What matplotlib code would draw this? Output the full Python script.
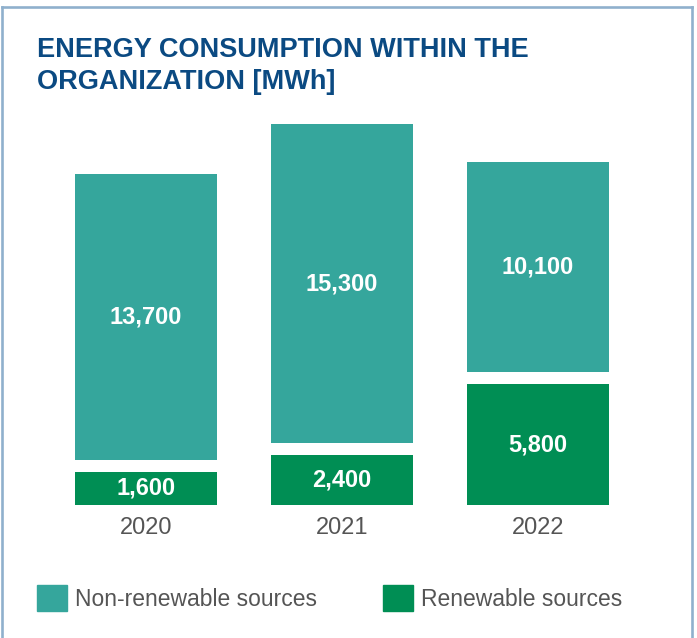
import matplotlib.pyplot as plt
from matplotlib.patches import Patch
from matplotlib.lines import Line2D

years = ["2020", "2021", "2022"]
renewable = [1600, 2400, 5800]
non_renewable = [13700, 15300, 10100]

teal = "#35a69c"
green = "#008e54"
navy = "#0b4a82"
grey = "#555555"
frame = "#8fb0cd"

plt.rcParams['font.family'] = ['Liberation Sans', 'DejaVu Sans']

W, H = 697, 638
fig = plt.figure(figsize=(W / 100, H / 100), dpi=100)

# axes placed so bars sit between y=505 and y=100 px
ax = fig.add_axes([20 / W, (H - 505) / H, 657 / W, 405 / H])
x = list(range(len(years)))
gap = 576  # white gap between stacked segments, in MWh
bw = 0.7245

ax.bar(x, renewable, width=bw, color=green)
bottoms = [r + gap for r in renewable]
ax.bar(x, non_renewable, width=bw, bottom=bottoms, color=teal)

for i in x:
    ax.text(i, renewable[i] / 2, f"{renewable[i]:,}", ha='center', va='center',
            color='white', fontsize=17, fontweight='bold')
    ax.text(i, bottoms[i] + non_renewable[i] / 2, f"{non_renewable[i]:,}", ha='center',
            va='center', color='white', fontsize=17, fontweight='bold')

ax.set_xlim(-0.643, 2.709)
ax.set_ylim(0, 19440)
ax.set_xticks(x)
ax.set_xticklabels(years, fontsize=17, color=grey)
ax.tick_params(axis='x', length=0, pad=9)
ax.set_yticks([])
for s in ax.spines.values():
    s.set_visible(False)

# title
fig.text(37 / W, 1 - 57 / H, "ENERGY CONSUMPTION WITHIN THE", fontsize=19.5,
         fontweight='bold', color=navy, va='baseline')
fig.text(37 / W, 1 - 89 / H, "ORGANIZATION [MWh]", fontsize=19.5,
         fontweight='bold', color=navy, va='baseline')

# legend
handles = [Patch(color=teal, label="Non-renewable sources"),
           Patch(color=green, label="Renewable sources")]
fig.legend(handles=handles, loc='center left', bbox_to_anchor=(37 / W, 1 - 598 / H),
           ncol=2, frameon=False, fontsize=16.5, labelcolor=grey,
           handlelength=1.3, handleheight=1.4, handletextpad=0.35,
           columnspacing=2.9, borderpad=0, borderaxespad=0)

# frame around the panel (top, left, right)
for xs, ys in [([1.5, 692], [6.5, 6.5]), ([1.5, 1.5], [6.5, 638]), ([692, 692], [6.5, 638])]:
    fig.add_artist(Line2D([v / W for v in xs], [1 - v / H for v in ys],
                          color=frame, linewidth=1.9, transform=fig.transFigure))

fig.savefig("out.png", dpi=100)
